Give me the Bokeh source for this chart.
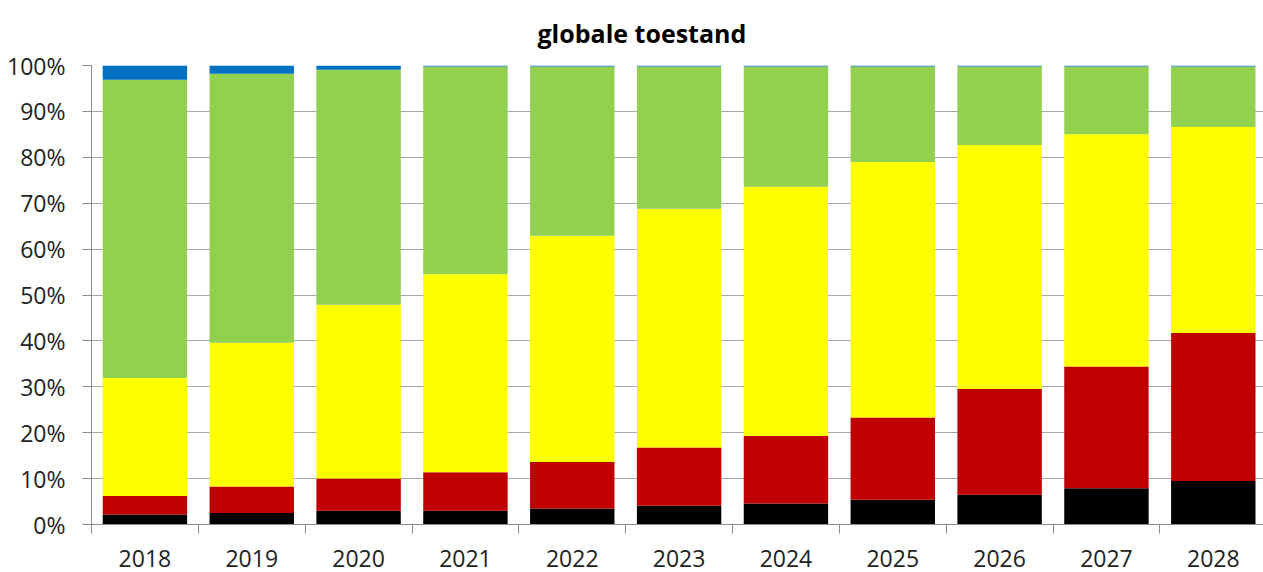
from bokeh.plotting import figure
from bokeh.models import ColumnDataSource, FixedTicker, Range1d, Title
from bokeh.embed import file_html
from bokeh.resources import INLINE

# ---- data (percent shares per year, stacked bottom -> top) ----
years = ["2018", "2019", "2020", "2021", "2022", "2023", "2024", "2025", "2026", "2027", "2028"]
zeer_slecht = [2.2, 2.5, 3.0, 3.0, 3.5, 4.1, 4.6, 5.4, 6.5, 7.9, 9.5]
slecht = [4.0, 5.8, 7.0, 8.4, 10.1, 12.7, 14.7, 17.9, 23.0, 26.5, 32.2]
matig = [25.7, 31.3, 37.9, 43.1, 49.3, 52.0, 54.3, 55.7, 53.2, 50.6, 44.9]
goed = [65.0, 58.6, 51.2, 45.3, 36.9, 31.0, 26.2, 20.8, 17.1, 14.8, 13.2]
zeer_goed = [3.1, 1.8, 0.9, 0.2, 0.2, 0.2, 0.2, 0.2, 0.2, 0.2, 0.2]
y_ticks = [0, 10, 20, 30, 40, 50, 60, 70, 80, 90, 100]
y_tick_labels = ["0%", "10%", "20%", "30%", "40%", "50%", "60%", "70%", "80%", "90%", "100%"]
title_text = "globale toestand"

series = ["zeer_slecht", "slecht", "matig", "goed", "zeer_goed"]
colors = ["#000000", "#C00000", "#FFFF00", "#92D050", "#0070C0"]

xs = list(range(len(years)))
source = ColumnDataSource(dict(x=xs, zeer_slecht=zeer_slecht, slecht=slecht, matig=matig,
                               goed=goed, zeer_goed=zeer_goed))

FONT = "Open Sans"
GRID = "#a6a6a6"
AXIS = "#8c8c8c"

p = figure(width=1263, height=572, output_backend="svg", toolbar_location=None,
           x_range=Range1d(-0.5, 10.47), y_range=Range1d(0, 100),
           min_border_left=91, min_border_right=0, min_border_top=65, min_border_bottom=48)
p.title = Title(text=title_text, align="left", offset=446,
                text_font=FONT, text_font_size="25px", text_font_style="bold",
                text_color="#000000", standoff=27, vertical_align="top")
p.outline_line_color = None

p.vbar_stack(series, x="x", width=0.79, fill_color=colors, line_color=None, source=source)

# x axis
p.xaxis.ticker = FixedTicker(ticks=xs, minor_ticks=[i - 0.5 for i in range(len(years) + 1)])
p.xaxis.major_label_overrides = {i: y for i, y in enumerate(years)}
p.xaxis.major_tick_out = 0
p.xaxis.major_tick_in = 0
p.xaxis.minor_tick_out = 9
p.xaxis.minor_tick_in = 0
p.xaxis.minor_tick_line_color = AXIS
p.xaxis.axis_line_color = AXIS
p.xaxis.major_label_text_font = FONT
p.xaxis.major_label_text_font_size = "23px"
p.xaxis.major_label_text_color = "#222222"
p.xaxis.major_label_standoff = 16
p.xgrid.grid_line_color = None

# y axis
p.yaxis.ticker = FixedTicker(ticks=y_ticks, minor_ticks=[])
p.yaxis.major_label_overrides = {t: l for t, l in zip(y_ticks, y_tick_labels)}
p.yaxis.major_tick_out = 9
p.yaxis.major_tick_in = 0
p.yaxis.major_tick_line_color = AXIS
p.yaxis.axis_line_color = AXIS
p.yaxis.major_label_text_font = FONT
p.yaxis.major_label_text_font_size = "23px"
p.yaxis.major_label_text_color = "#222222"
p.yaxis.major_label_standoff = 17
p.ygrid.grid_line_color = GRID
p.ygrid.ticker = FixedTicker(ticks=y_ticks)

open("out.html", "w").write(file_html(p, INLINE))
